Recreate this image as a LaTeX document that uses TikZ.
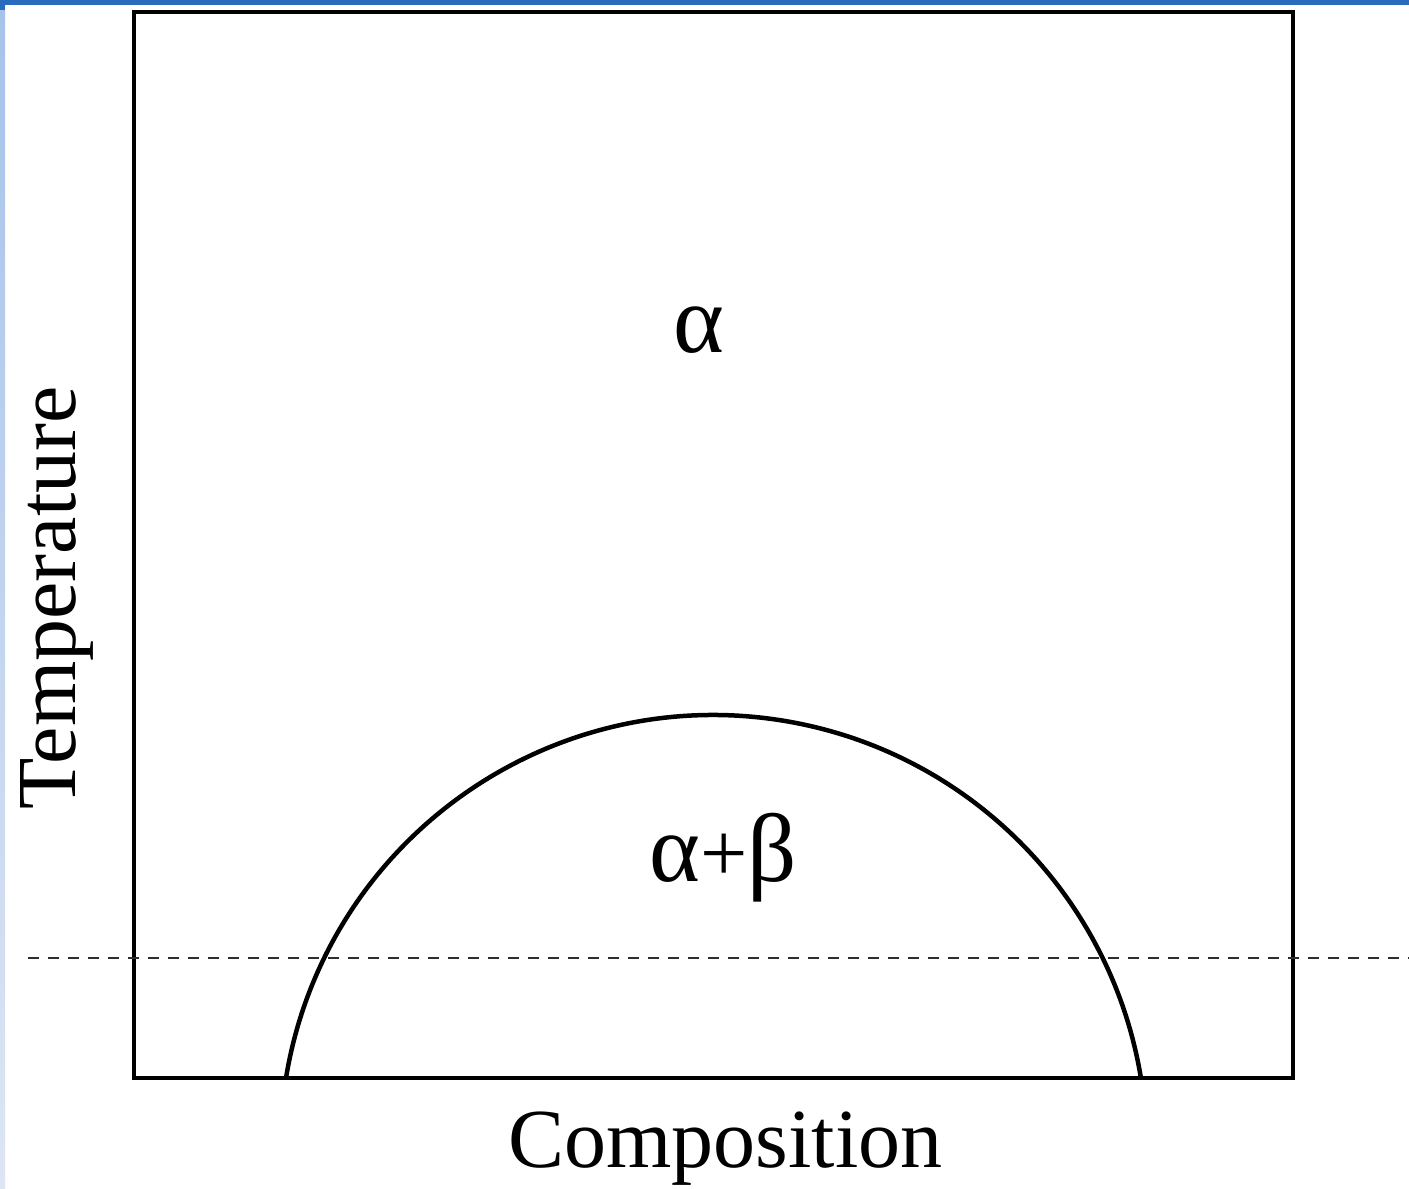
\documentclass[tikz,border=0pt]{standalone}
\usepackage{fontspec}
\setmainfont{Liberation Serif}
\newcommand\gkbig{\fontsize{97}{110}\selectfont}
\definecolor{topblue}{HTML}{2A6BBD}
\definecolor{sidetop}{HTML}{A6C3EA}
\definecolor{sidebot}{HTML}{DDE5F3}
\definecolor{dashgrey}{HTML}{2E2E2E}
\tikzset{
  frameline/.style={line width=4.5pt, draw=black},
  curveline/.style={line width=4.5pt, draw=black},
  tieline/.style={line width=2.3pt, draw=dashgrey, dash pattern=on 11pt off 9pt},
  lbl/.style={inner sep=0pt, font=\fontsize{84}{100}\selectfont},
}
\begin{document}
\begin{tikzpicture}[x=1pt,y=1pt]
\useasboundingbox (0,0) rectangle (1409,1189);
\fill[white] (0,0) rectangle (1409,1189);
% window edge decoration
\shade[top color=sidetop, bottom color=sidebot] (0,0) rectangle (5,1184);
\fill[topblue] (0,1184) rectangle (1409,1189);
\fill[topblue] (0,1179) rectangle (5,1184);
% frame
\coordinate (bl) at (134,111);
\coordinate (tr) at (1293,1177);
\draw[frameline] (bl) rectangle (tr);
% miscibility gap
\coordinate (gapL) at (286,111);
\draw[curveline] (gapL) arc[start angle=170.67, end angle=9.33, radius=433.2] coordinate (gapR);
% dashed isotherm
\coordinate (isoL) at (28,231);
\coordinate (isoR) at (1409,231);
\draw[tieline] (isoL) -- (isoR);
% labels
\node[lbl] (alpha) at (699,859) {\gkbig α};
\node[lbl, anchor=base] (alphabeta) at (723,307) {{\gkbig α}+{\gkbig β}};
\node[lbl, anchor=base] (comp) at (725.5,21) {Composition};
\node[lbl, anchor=base, rotate=90] (temp) at (75,591) {Temperature};
\end{tikzpicture}
\end{document}
